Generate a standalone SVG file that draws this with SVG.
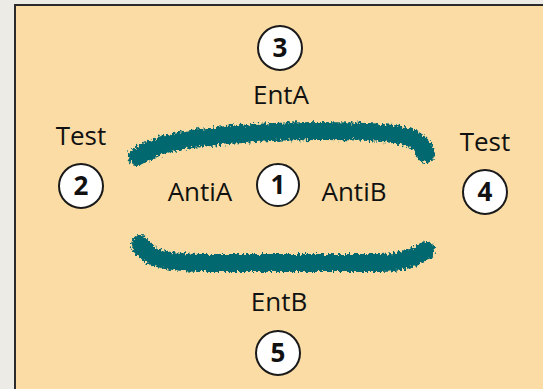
<svg xmlns="http://www.w3.org/2000/svg" width="543" height="389" viewBox="0 0 543 389">
  <style>
    .lbl { font-family: "Open Sans", "Noto Sans", sans-serif; font-size: 26px; fill: #111; text-anchor: middle; }
    .num { font-family: "Open Sans", "Noto Sans", sans-serif; font-size: 26px; font-weight: bold; fill: #111; text-anchor: middle; }
    .ring { fill: #fff; stroke: #1a1a1a; stroke-width: 2; }
    .band { fill: none; stroke: #00676e; stroke-width: 18; stroke-linecap: round; stroke-linejoin: round; filter: url(#rough); }
  </style>
  <defs>
    <!-- ragged brush edge for the thick bands -->
    <filter id="rough" x="-10%" y="-50%" width="120%" height="200%">
      <feTurbulence type="fractalNoise" baseFrequency="0.45 0.3" numOctaves="2" seed="4" result="noise"/>
      <feDisplacementMap in="SourceGraphic" in2="noise" scale="8" xChannelSelector="R" yChannelSelector="G"/>
    </filter>
  </defs>

  <!-- page and panel -->
  <rect x="0" y="0" width="543" height="389" fill="#edebe5"/>
  <rect x="15" y="5" width="540" height="400" fill="#fadca4" stroke="#2b2b2b" stroke-width="2"/>

  <!-- connectors: the two bands -->
  <g id="connectors">
    <path class="band" d="M137,157 C150,150 160,142 200,138 C240,133 280,131 320,131 C360,131 392,132 408,137 C419,141 424,147 426,154"/>
    <path class="band" d="M140,244 C148,257 160,262 200,263 L380,263 C402,263 415,258 426,250"/>
  </g>

  <g id="node1">
    <circle class="ring" cx="278" cy="185" r="21"/>
    <text class="num" x="278" y="194">1</text>
  </g>
  <g id="node2">
    <text class="lbl" x="81" y="145">Test</text>
    <circle class="ring" cx="81" cy="186" r="22"/>
    <text class="num" x="81" y="195">2</text>
  </g>
  <g id="node3">
    <circle class="ring" cx="280" cy="48" r="22"/>
    <text class="num" x="280" y="57">3</text>
    <text class="lbl" x="281" y="104">EntA</text>
  </g>
  <g id="node4">
    <text class="lbl" x="485" y="151">Test</text>
    <circle class="ring" cx="485" cy="192" r="22"/>
    <text class="num" x="485" y="201">4</text>
  </g>
  <g id="node5">
    <text class="lbl" x="279" y="311">EntB</text>
    <circle class="ring" cx="278" cy="353" r="22"/>
    <text class="num" x="278" y="362">5</text>
  </g>
  <g id="labels">
    <text class="lbl" x="200" y="201">AntiA</text>
    <text class="lbl" x="354" y="201">AntiB</text>
  </g>
</svg>
